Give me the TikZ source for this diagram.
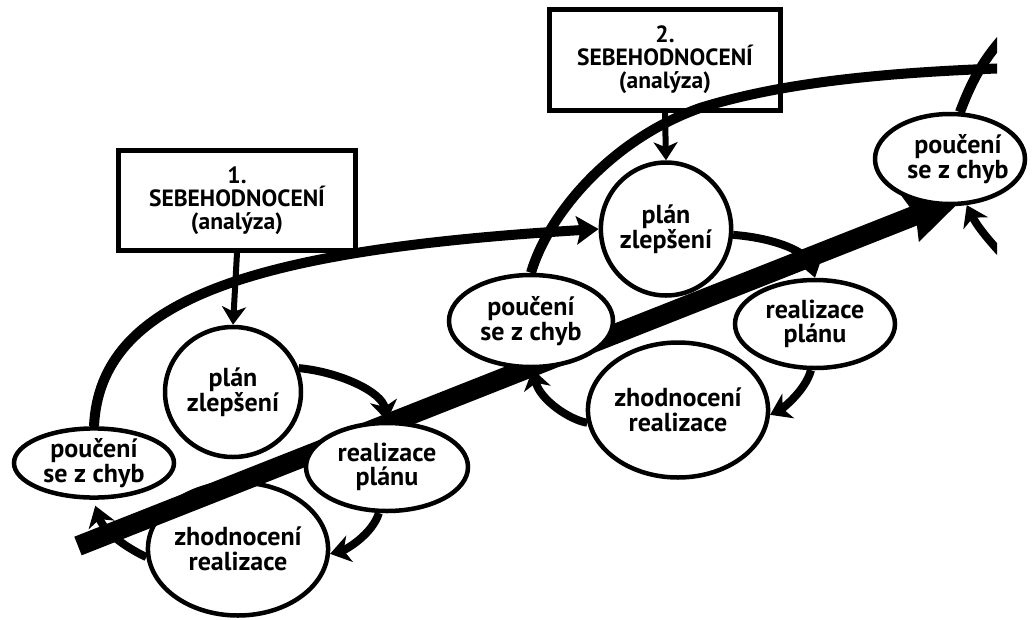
\documentclass[tikz,border=0pt]{standalone}
\usepackage{fontspec}
\setmainfont{PT Sans}
\usetikzlibrary{shapes.geometric,arrows.meta}
\begin{document}
\begin{tikzpicture}[x=1pt,y=-1pt,
  lab/.style={font=\bfseries\fontsize{26}{24.5}\selectfont, align=center},
  boxlab/.style={font=\bfseries\fontsize{23.5}{23}\selectfont, align=center},
  oval/.style={ellipse, draw, line width=4.5pt, fill=white, inner sep=0pt, lab},
  sbox/.style={draw, line width=5pt, fill=white, inner sep=0pt, boxlab},
  cyc/.style={line width=8pt, -{Stealth[length=20pt,width=27pt,inset=6pt]}},
  feed/.style={line width=6pt, -{Stealth[length=18pt,width=24pt,inset=5pt]}},
  bigcurve/.style={line width=10pt},
  bigarrow/.style={line width=20pt, -{Stealth[length=60pt,width=48pt,inset=5pt]}}
]
\useasboundingbox (0,0) rectangle (1034,619);

% node below the big arrow
\node[oval, minimum width=134pt, minimum height=133pt] (zhod1) at (238,549) {zhodnocení\\realizace};

% big diagonal arrow
\coordinate (bigstart) at (78,546);
\coordinate (bigend) at (967,195);
\draw[bigarrow] (bigstart) -- (bigend);

% boxes
\node[sbox, minimum width=237pt, minimum height=100pt] (b1) at (237,200.5) {1.\\SEBEHODNOCENÍ\\(analýza)};
\node[sbox, minimum width=231pt, minimum height=101pt] (b2) at (665,60) {2.\\SEBEHODNOCENÍ\\(analýza)};

% cycle 1
\node[oval, minimum width=136pt, minimum height=130pt] (plan1) at (233,392) {plán\\zlepšení};
\node[oval, minimum width=160pt, minimum height=66pt] (pouc1) at (94,463) {poučení\\se z chyb};
\node[oval, minimum width=162pt, minimum height=88pt] (real1) at (387,467) {realizace\\plánu};

% cycle 2
\node[oval, minimum width=127pt, minimum height=133pt] (plan2) at (666,229) {plán\\zlepšení};
\node[oval, minimum width=164pt, minimum height=92pt] (pouc2) at (531,321) {poučení\\se z chyb};
\node[oval, minimum width=160pt, minimum height=88pt] (real2) at (815,324) {realizace\\plánu};
\node[oval, minimum width=128pt, minimum height=135pt] (zhod2) at (678,410) {zhodnocení\\realizace};

% third
\node[oval, minimum width=150pt, minimum height=90pt] (pouc3) at (950,159) {};
\node[lab] (pouc3text) at ([xshift=8pt]pouc3.center) {poučení\\se z chyb};

% long curves
\draw[bigcurve, -{Stealth[length=22pt,width=28pt,inset=4pt]}]
  (pouc1.north) .. controls (100,300) and (250,250) .. (plan2.west);
\begin{scope}
  \clip (0,0) rectangle (997,619);
  \coordinate (c2mid) at (700,108);
  \coordinate (c2end) at (1010,68);
  \coordinate (c3end) at (1015,25);
  \coordinate (inc3) at (1015,268);
  \draw[bigcurve] (pouc2.north) .. controls (548,215) and (610,140) .. (c2mid)
      .. controls (790,80) and (900,72) .. (c2end);
  \draw[bigcurve] (pouc3.78) .. controls (972,80) and (985,55) .. (c3end);
  \draw[cyc] (inc3) .. controls (995,248) and (978,228) .. (pouc3.-70);
\end{scope}

% cycle arrows 1
\draw[cyc] (plan1.20) .. controls (340,372) and (382,392) .. (real1.north);
\draw[cyc] (real1.-100) .. controls (372,535) and (345,550) .. (zhod1.-3);
\draw[cyc] (zhod1.185) .. controls (135,552) and (105,535) .. ([yshift=-6pt]pouc1.-88);

% cycle arrows 2
\draw[cyc] (plan2.-5) .. controls (775,238) and (808,252) .. (real2.north);
\draw[cyc] (real2.-95) .. controls (805,392) and (780,410) .. (zhod2.-3);
\draw[cyc] (zhod2.188) .. controls (570,420) and (540,400) .. (pouc2.-88);

% box arrows
\draw[feed] (b1.south) -- (plan1.north);
\draw[feed] (b2.south) -- (plan2.north);
\end{tikzpicture}
\end{document}
